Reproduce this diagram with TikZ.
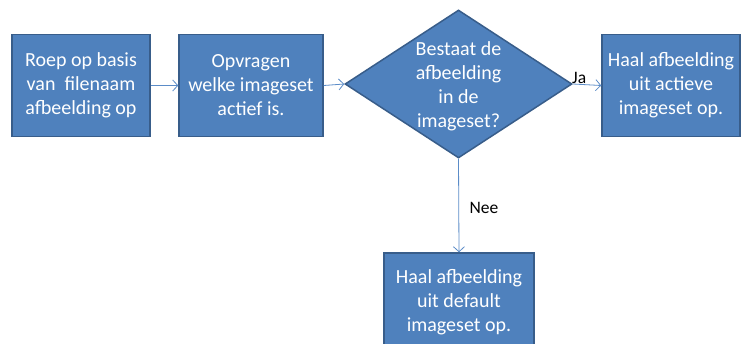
\documentclass[tikz,border=0pt]{standalone}
\usepackage{fontspec}
\setmainfont{Carlito}
\usetikzlibrary{shapes.geometric,arrows.meta}
\definecolor{boxfill}{HTML}{4F81BD}
\definecolor{boxline}{HTML}{385D8A}
\definecolor{arrowcol}{HTML}{5B8CC8}
\tikzset{
  stepbox/.style={draw=boxline, line width=1.5pt, fill=boxfill, text=white,
    minimum width=138pt, minimum height=102pt, inner sep=0pt,
    align=center, font=\fontsize{20}{24}\selectfont},
  decision/.style={diamond, draw=boxline, line width=1.5pt, fill=boxfill,
    minimum width=227pt, minimum height=148pt, inner sep=0pt},
  dtext/.style={text=white, align=center, font=\fontsize{20}{24}\selectfont},
  conn/.style={draw=arrowcol, line width=0.8pt, -{Straight Barb[length=5pt,width=11pt,line width=0.8pt]}},
  lbl/.style={text=black, font=\fontsize{17.5}{20}\selectfont, inner sep=1pt}
}
\begin{document}
\begin{tikzpicture}[x=1pt,y=-1pt]
\useasboundingbox (0,0) rectangle (741,343);
\clip (0,0) rectangle (741,343);
\fill[white] (0,0) rectangle (741,343);
\node[stepbox] (a) at (81,85.5) {Roep op basis\\van\ \ filenaam\\afbeelding op};
\node[stepbox, minimum width=144pt] (b) at (251,85.5) {Opvragen\\welke imageset\\actief is.};
\node[decision] (d) at (458.5,84) {};
\node[dtext] (dt) at (458.5,86) {Bestaat de\\afbeelding\\in de\\imageset?};
\node[stepbox] (c) at (671,85.5) {Haal afbeelding\\uit actieve\\imageset op.};
\node[stepbox, minimum width=150pt, minimum height=99pt] (e) at (459,302.5) {Haal afbeelding\\uit default\\imageset op.};
\draw[conn] (a.east) -- (b.west);
\draw[conn] (b.east) -- (d.west);
\draw[conn] (d.east) -- (c.west);
\draw[conn] (d.south) -- (e.north);
\node[lbl, anchor=south west] (ja) at (571,85) {Ja};
\node[lbl] (nee) at (484,208) {Nee};
\end{tikzpicture}
\end{document}
